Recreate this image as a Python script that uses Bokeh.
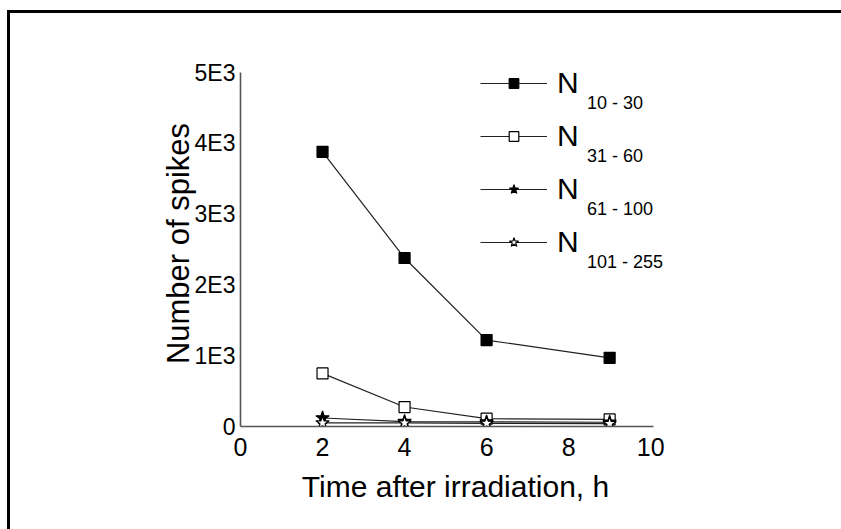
from bokeh.plotting import figure
from bokeh.models import Legend, LegendItem, FixedTicker, Range1d
from bokeh.embed import file_html
from bokeh.resources import INLINE

# ---- data ----
hours = [2, 4, 6, 9]
n_10_30 = [3880, 2380, 1220, 970]
n_31_60 = [750, 275, 110, 100]
n_61_100 = [120, 70, 65, 60]
n_101_255 = [50, 50, 45, 40]
series_subscripts = ["10 - 30", "31 - 60", "61 - 100", "101 - 255"]
x_ticks = [0, 2, 4, 6, 8, 10]
y_ticks = [0, 1000, 2000, 3000, 4000, 5000]
y_tick_labels = ["0", "1E3", "2E3", "3E3", "4E3", "5E3"]

FONT = "Liberation Sans"
INK = "#222222"

p = figure(
    output_backend="svg", toolbar_location=None,
    x_range=Range1d(0, 10.484), y_range=Range1d(0, 5169.5),
    frame_width=430, frame_height=366,
    min_border_left=230, min_border_top=47, min_border_right=171, min_border_bottom=103,
)
p.styles = {"border-top": "3px solid black", "border-left": "3px solid black",
            "margin-left": "7px", "margin-top": "10px"}
p.outline_line_color = None
p.xgrid.visible = False
p.ygrid.visible = False
p.background_fill_color = "white"
p.border_fill_color = "white"

for ax in (p.xaxis[0], p.yaxis[0]):
    ax.axis_line_color = "#555555"
    ax.axis_line_width = 1.6
    ax.major_tick_line_color = None
    ax.minor_tick_line_color = None
    ax.major_tick_out = 0
    ax.major_tick_in = 0
    ax.major_label_text_font = FONT
    ax.major_label_text_color = "black"
    ax.axis_label_text_font = FONT
    ax.axis_label_text_font_style = "normal"
    ax.axis_label_text_color = "black"

p.xaxis.ticker = FixedTicker(ticks=x_ticks)
p.xaxis.bounds = (0, 10.07)
p.xaxis.major_label_text_font_size = "25px"
p.xaxis.major_label_standoff = 11
p.xaxis.axis_label = "Time after irradiation, h"
p.xaxis.axis_label_text_font_size = "30px"
p.xaxis.axis_label_standoff = 11

p.yaxis.ticker = FixedTicker(ticks=y_ticks)
p.yaxis.bounds = (0, 5000)
p.yaxis.major_label_text_font_size = "23px"
p.yaxis.major_label_overrides = {t: s for t, s in zip(y_ticks, y_tick_labels)}
p.yaxis.major_label_standoff = 5
p.yaxis.axis_label = "Number of spikes"
p.yaxis.axis_label_text_font_size = "31px"
p.yaxis.axis_label_standoff = -4

styles = [
    dict(marker="square", size=11, fill_color="black"),
    dict(marker="square", size=11, fill_color="white"),
    dict(marker="star", size=14, fill_color="black"),
    dict(marker="star", size=14, fill_color="white"),
]
series = [n_10_30, n_31_60, n_61_100, n_101_255]

items = []
sub_items = []
for ys, st, sub in zip(series, styles, series_subscripts):
    ln = p.line(hours, ys, line_color=INK, line_width=1.2)
    sc = p.scatter(hours, ys, marker=st["marker"], size=st["size"],
                   fill_color=st["fill_color"], line_color="black", line_width=1.2)
    items.append(LegendItem(label="N", renderers=[ln, sc]))
    sub_items.append(LegendItem(label=sub, renderers=[ln]))

legend = Legend(items=items, location=(240, 167))
legend.background_fill_alpha = 0
legend.border_line_color = None
legend.padding = 0
legend.margin = 0
legend.spacing = 19
legend.glyph_width = 67
legend.glyph_height = 24
legend.label_standoff = 10
legend.label_text_font = FONT
legend.label_text_font_size = "30px"
legend.label_text_color = "black"
p.add_layout(legend, "center")

# subscripts of the legend labels (second legend with zero-width glyphs)
sub_legend = Legend(items=sub_items, location=(347, 152))
sub_legend.background_fill_alpha = 0
sub_legend.border_line_color = None
sub_legend.padding = 0
sub_legend.margin = 0
sub_legend.spacing = 29
sub_legend.glyph_width = 0
sub_legend.glyph_height = 24
sub_legend.label_standoff = 0
sub_legend.label_text_font = FONT
sub_legend.label_text_font_size = "18px"
sub_legend.label_text_color = "black"
p.add_layout(sub_legend, "center")

open("out.html", "w").write(file_html(p, INLINE))
